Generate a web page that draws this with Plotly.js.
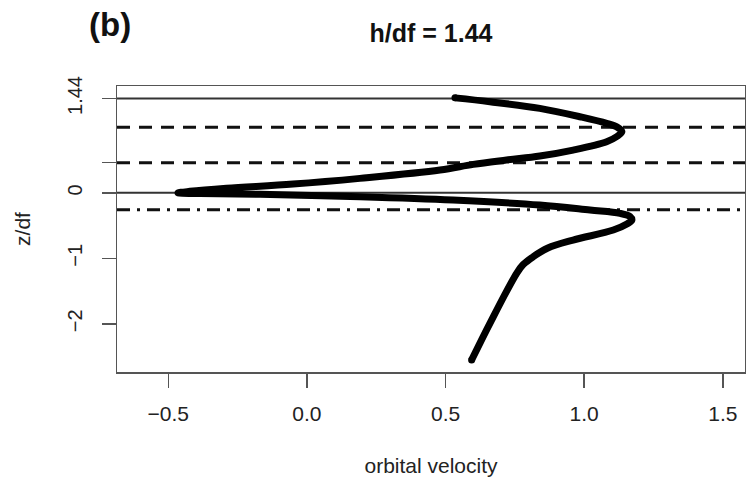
<!DOCTYPE html>
<html>
<head>
<meta charset="utf-8">
<script src="https://cdn.plot.ly/plotly-3.0.1.min.js"></script>
<style>html,body{margin:0;padding:0;background:#fff;}#chart{width:746px;height:481px;}</style>
</head>
<body>
<div id="chart"></div>
<script>
// Orbital velocity profile (x) against z/df (y)
const velocity = [0.534, 0.660, 0.840, 0.985, 1.081, 1.121, 1.136, 1.118, 1.081, 0.960, 0.840, 0.720, 0.600, 0.480, 0.191, -0.050, -0.290, -0.422, -0.465,
                  -0.386, -0.169, 0.191, 0.527, 0.840, 1.021, 1.129, 1.165, 1.172, 1.154, 1.105, 0.960, 0.869, 0.816, 0.780, 0.757, 0.660, 0.594];
const zdf      = [1.450, 1.391, 1.290, 1.162, 1.061, 0.997, 0.933, 0.860, 0.780, 0.653, 0.562, 0.501, 0.435, 0.348, 0.221, 0.134, 0.069, 0.023, 0.000,
                  -0.011, -0.023, -0.060, -0.110, -0.186, -0.263, -0.313, -0.362, -0.415, -0.476, -0.568, -0.721, -0.843, -0.976, -1.095, -1.224, -1.992, -2.553];

// Reference levels (z/df)
const solidLevels = [1.44, 0];
const dashedLevels = [1.0, 0.46];
const dashDotLevels = [-0.26];

// Axis ticks
const yTickVals = [-2, -1, 0, 0.46, 1.44];
const yTickText = ['\u22122', '\u22121', '0', '', '1.44'];
const xTickVals = [-0.5, 0.0, 0.5, 1.0, 1.5];
const xTickText = ['\u22120.5', '0.0', '0.5', '1.0', '1.5'];

const FONT = 'Liberation Sans, Arial, Helvetica, sans-serif';

function hline(y, dash, width, color) {
  return {type: 'line', xref: 'paper', x0: 0, x1: 1, yref: 'y', y0: y, y1: y,
          line: {color: color, width: width, dash: dash}, layer: 'below'};
}
const shapes = []
  .concat(solidLevels.map(v => hline(v, 'solid', 2, '#333')))
  .concat(dashedLevels.map(v => hline(v, '13px,9px', 3, '#111')))
  .concat(dashDotLevels.map(v => hline(v, '13px,7px,3px,7px', 3, '#111')));

const last = velocity.length - 1;
const traces = [
  {x: velocity, y: zdf, type: 'scatter', mode: 'lines',
   line: {color: '#000', width: 7, shape: 'spline', smoothing: 1.0}, hoverinfo: 'x+y', showlegend: false},
  {x: [velocity[0], velocity[last]], y: [zdf[0], zdf[last]], type: 'scatter', mode: 'markers',
   marker: {color: '#000', size: 7}, hoverinfo: 'skip', showlegend: false}
];

const layout = {
  width: 746, height: 481,
  margin: {l: 117, r: 1, t: 86, b: 109},
  paper_bgcolor: '#fff', plot_bgcolor: '#fff',
  font: {family: FONT, color: '#222', size: 21},
  title: {text: '<b>h/df = 1.44</b>', font: {family: FONT, size: 25, color: '#111'},
          x: 0.5, xref: 'paper', xanchor: 'center', y: 1 - 33/481, yref: 'container', yanchor: 'middle'},
  xaxis: {range: [-0.685, 1.58], tickvals: xTickVals, ticktext: xTickText,
          ticks: 'outside', ticklen: 14, tickwidth: 1.5, tickcolor: '#555',
          showline: true, mirror: true, linecolor: '#555', linewidth: 1.5,
          showgrid: false, zeroline: false, ticklabelstandoff: 8,
          tickfont: {size: 21, color: '#222'},
          title: {text: 'orbital velocity', font: {size: 21, color: '#222'}, standoff: 34}},
  yaxis: {range: [-2.735, 1.631], tickvals: yTickVals, ticktext: yTickText, tickangle: -90,
          ticks: 'outside', ticklen: 14, tickwidth: 1.5, tickcolor: '#555',
          showline: true, mirror: true, linecolor: '#555', linewidth: 1.5,
          showgrid: false, zeroline: false, ticklabelstandoff: 12,
          tickfont: {size: 20, color: '#222'},
          title: {text: 'z/df', font: {size: 21, color: '#222'}, standoff: 27}},
  shapes: shapes,
  annotations: [
    {text: '<b>(b)</b>', xref: 'paper', yref: 'paper', x: (110 - 117) / 628, y: (372 - 25) / 286,
     xanchor: 'center', yanchor: 'middle', showarrow: false, font: {family: FONT, size: 33, color: '#111'}}
  ]
};

Plotly.newPlot('chart', traces, layout, {displayModeBar: false, staticPlot: true});
</script>
</body>
</html>
